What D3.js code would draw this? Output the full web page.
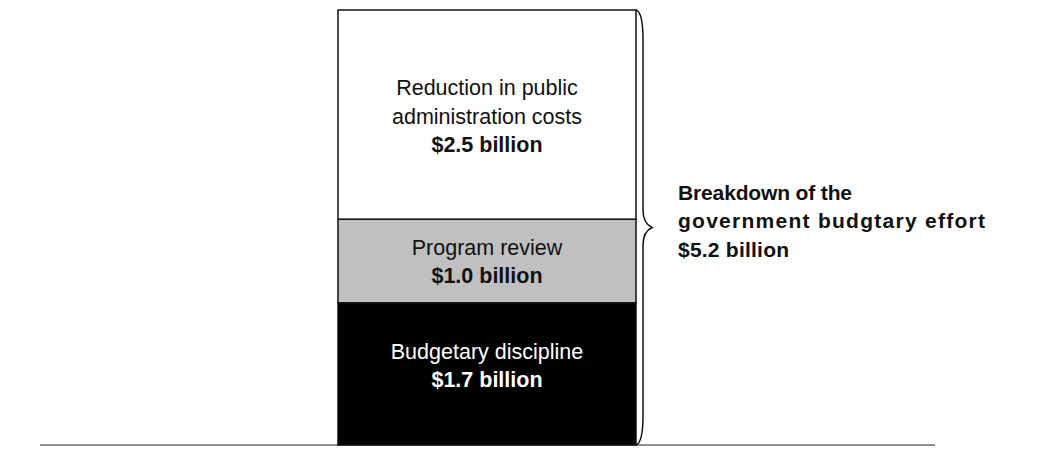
<!DOCTYPE html>
<html>
<head>
<meta charset="utf-8">
<script src="https://cdn.jsdelivr.net/npm/d3@7"></script>
<style>
  html, body { margin: 0; padding: 0; background: #fff; }
  svg { display: block; }
  text { font-family: "Liberation Sans", Arial, sans-serif; }
</style>
</head>
<body>
<svg id="chart" width="1038" height="454"></svg>
<script>
// Components of the budgetary effort, bottom to top (billions of dollars)
const components = ["Budgetary discipline", "Program review", "Reduction in public administration costs"];
const componentLines = [["Budgetary discipline"], ["Program review"], ["Reduction in public", "administration costs"]];
const values = [1.7, 1.0, 2.5];
const valueLabels = ["$1.7 billion", "$1.0 billion", "$2.5 billion"];
const totalLabelLines = ["Breakdown of the", "government budgtary effort", "$5.2 billion"];
const barCategory = ["Budgetary effort"];

// Presentation
const fills = ["#000000", "#c0c0c0", "#ffffff"];
const textColors = ["#ffffff", "#111111", "#111111"];
const labelNudge = [-9, 0, 1];
const lineH = 28.5;
const fontSize = 21.5;

const svg = d3.select("#chart");

const total = d3.sum(values);
const y = d3.scaleLinear().domain([0, total]).range([445, 10]);
const x = d3.scaleBand().domain(barCategory).range([338, 636]).padding(0);

// stacked extents
let acc = 0;
const stacked = values.map((v, i) => {
  const d = { i, y0: acc, y1: acc + v, value: v };
  acc += v;
  return d;
});

// baseline
svg.append("line")
  .attr("x1", 40).attr("x2", 935)
  .attr("y1", y(0)).attr("y2", y(0))
  .attr("stroke", "#6a6a6a").attr("stroke-width", 1.6);

// segments
const bx = x(barCategory[0]);
const bw = x.bandwidth();
svg.selectAll("rect.seg")
  .data(stacked)
  .join("rect")
  .attr("class", "seg")
  .attr("x", bx)
  .attr("width", bw)
  .attr("y", d => y(d.y1))
  .attr("height", d => y(d.y0) - y(d.y1))
  .attr("fill", d => fills[d.i])
  .attr("stroke", "#111")
  .attr("stroke-width", 1.5);

// segment labels
stacked.forEach(d => {
  const lines = componentLines[d.i].concat([valueLabels[d.i]]);
  const mid = (y(d.y0) + y(d.y1)) / 2 + labelNudge[d.i];
  const n = lines.length;
  const t = svg.append("text")
    .attr("text-anchor", "middle")
    .attr("font-size", fontSize)
    .attr("fill", textColors[d.i]);
  lines.forEach((ln, k) => {
    t.append("tspan")
      .attr("x", bx + bw / 2)
      .attr("y", mid + (k - (n - 1) / 2) * lineH + 8)
      .attr("font-weight", k === n - 1 ? "bold" : "normal")
      .text(ln);
  });
});

// brace spanning the whole bar
const xr = bx + bw;
const braceTop = y(total), braceBot = y(0), midY = y(total / 2);
const bxv = xr + 7, tip = xr + 16;
const bracePath = d3.path();
bracePath.moveTo(xr, braceTop);
bracePath.quadraticCurveTo(bxv, braceTop + 2, bxv, braceTop + 30);
bracePath.lineTo(bxv, midY - 18);
bracePath.quadraticCurveTo(bxv, midY - 4, tip, midY);
bracePath.quadraticCurveTo(bxv, midY + 4, bxv, midY + 18);
bracePath.lineTo(bxv, braceBot - 30);
bracePath.quadraticCurveTo(bxv, braceBot - 2, xr, braceBot);
svg.append("path")
  .attr("d", bracePath.toString())
  .attr("fill", "none")
  .attr("stroke", "#111")
  .attr("stroke-width", 1.5);

// total label
const widths = [174, 307, 111];
const tt = svg.append("text")
  .attr("font-size", 21)
  .attr("font-weight", "bold")
  .attr("fill", "#111");
totalLabelLines.forEach((ln, k) => {
  tt.append("tspan")
    .attr("x", tip + 26)
    .attr("y", midY + (k - 1) * lineH + 0.5)
    .attr("textLength", widths[k])
    .attr("lengthAdjust", "spacing")
    .text(ln);
});
</script>
</body>
</html>
